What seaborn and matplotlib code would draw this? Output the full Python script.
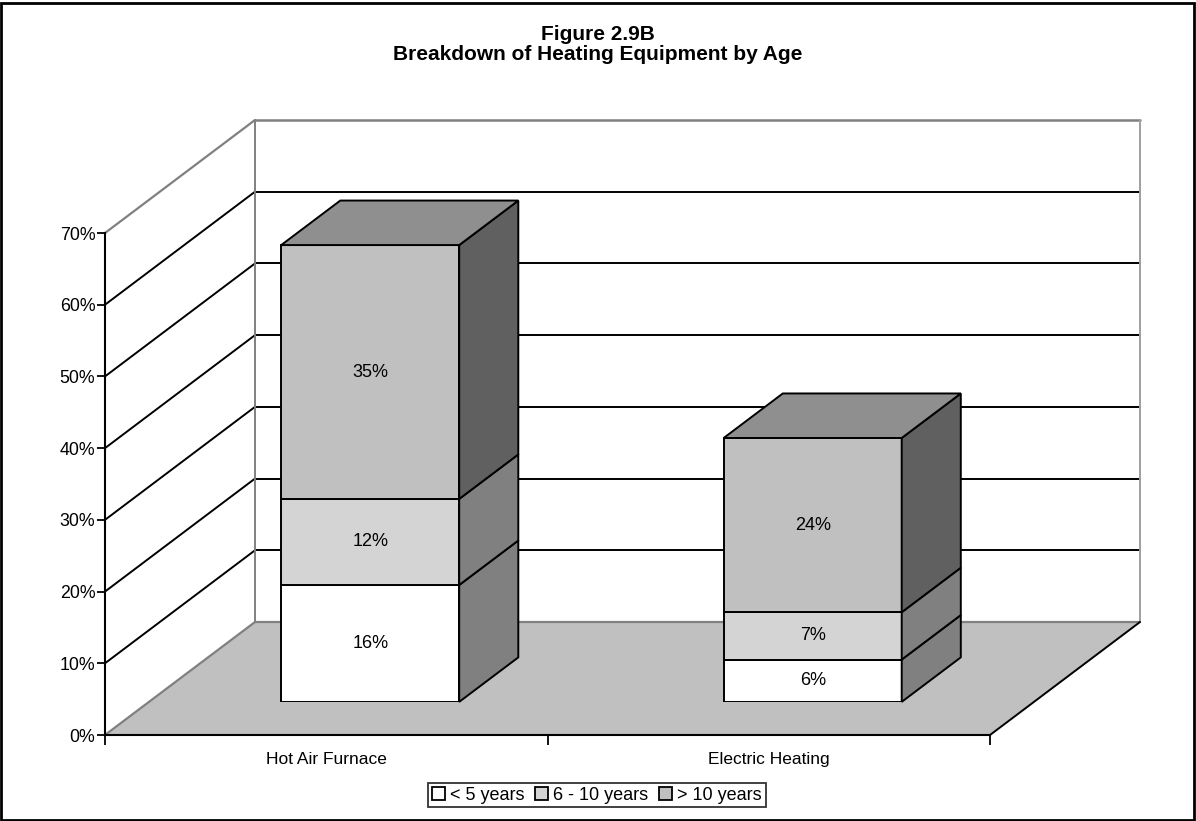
import matplotlib
matplotlib.use("Agg")
import matplotlib.pyplot as plt
from matplotlib.patches import Polygon, Patch, Rectangle
import seaborn as sns

# ---------------- data ----------------
categories = ["Hot Air Furnace", "Electric Heating"]
under_5 = [16.3, 5.9]
six_to_ten = [12.0, 6.6]
over_10 = [35.4, 24.3]
series_names = ["< 5 years", "6 - 10 years", "> 10 years"]
y_ticks = [0, 10, 20, 30, 40, 50, 60, 70]
title_lines = ["Figure 2.9B", "Breakdown of Heating Equipment by Age"]

# ---------------- style ----------------
front_colors = ["#ffffff", "#d4d4d4", "#c0c0c0"]
side_colors = ["#808080", "#808080", "#606060"]
top_color = "#8f8f8f"
floor_color = "#c0c0c0"
wall_edge = "#808080"

sns.set_style("white")
plt.rcParams["font.family"] = ["Liberation Sans", "DejaVu Sans"]
plt.rcParams.update({"text.color": "black", "xtick.color": "black", "ytick.color": "black",
                     "axes.labelcolor": "black", "legend.labelcolor": "black"})

W, H = 1196, 821
fig = plt.figure(figsize=(W / 100, H / 100), dpi=100)

# geometry (pixels)
plot_left, plot_bottom_px, plot_w, plot_top_px = 105, 735, 885, 233
depth_px = (150, 113)           # full depth of the 3-D box
bar_front_frac, bar_back_frac = 0.293, 0.687

def fig_rect(left_px, bottom_px, width_px, top_px):
    return [left_px / W, (H - bottom_px) / H, width_px / W, (bottom_px - top_px) / H]

# front plane axes (ticks, walls, floor)
ax_f = fig.add_axes(fig_rect(plot_left, plot_bottom_px, plot_w, plot_top_px))
ax_f.set_xlim(-0.5, 1.5)
ax_f.set_ylim(0, 70)
ax_f.patch.set_visible(False)
ux = plot_w / 2.0                       # px per category unit
uy = (plot_bottom_px - plot_top_px) / 70.0  # px per percent
DX, DY = depth_px[0] / ux, depth_px[1] / uy

x0, x1 = -0.5, 1.5
# left wall
ax_f.add_patch(Polygon([(x0, 0), (x0, 70), (x0 + DX, 70 + DY), (x0 + DX, DY)],
                       closed=True, facecolor="white", edgecolor="none", clip_on=False, zorder=1))
# back wall
ax_f.add_patch(Polygon([(x0 + DX, DY), (x0 + DX, 70 + DY), (x1 + DX, 70 + DY), (x1 + DX, DY)],
                       closed=True, facecolor="white", edgecolor="none", clip_on=False, zorder=1))
# floor
ax_f.add_patch(Polygon([(x0, 0), (x1, 0), (x1 + DX, DY), (x0 + DX, DY)],
                       closed=True, facecolor=floor_color, edgecolor="none", clip_on=False, zorder=1))
# gridlines
for v in y_ticks[1:-1]:
    ax_f.plot([x0 + DX, x1 + DX], [v + DY, v + DY], color="black", lw=1.4, clip_on=False, zorder=2)
    ax_f.plot([x0, x0 + DX], [v, v + DY], color="black", lw=1.4, clip_on=False, zorder=2)
# wall borders (gray)
ax_f.plot([x0, x0 + DX], [70, 70 + DY], color=wall_edge, lw=1.6, clip_on=False, zorder=2)
ax_f.plot([x0 + DX, x1 + DX], [70 + DY, 70 + DY], color=wall_edge, lw=1.8, clip_on=False, zorder=2)
ax_f.plot([x0 + DX, x0 + DX], [DY, 70 + DY], color=wall_edge, lw=1.4, clip_on=False, zorder=2)
ax_f.plot([x1 + DX, x1 + DX], [DY, 70 + DY], color="#a0a0a0", lw=1.4, clip_on=False, zorder=2)
ax_f.plot([x0, x0 + DX], [0, DY], color=wall_edge, lw=1.6, clip_on=False, zorder=2)
ax_f.plot([x0 + DX, x1 + DX], [DY, DY], color=wall_edge, lw=1.6, clip_on=False, zorder=2)
ax_f.plot([x1, x1 + DX], [0, DY], color="black", lw=1.4, clip_on=False, zorder=2)

for s in ["top", "right"]:
    ax_f.spines[s].set_visible(False)
for s in ["left", "bottom"]:
    ax_f.spines[s].set_color("black")
    ax_f.spines[s].set_linewidth(1.5)
    ax_f.spines[s].set_zorder(3)
ax_f.set_yticks(y_ticks)
ax_f.set_yticklabels([f"{v}%" for v in y_ticks])
ax_f.set_xticks([0, 1])
ax_f.set_xticklabels(categories)
ax_f.set_xticks([-0.5, 0.5, 1.5], minor=True)
ax_f.tick_params(axis="y", which="major", direction="out", length=6, width=1.3,
                 color="black", labelcolor="black", labelsize=12.75, pad=1, left=True)
ax_f.tick_params(axis="x", which="major", length=0, labelsize=12.5, pad=12, bottom=True,
                 labelcolor="black")
ax_f.tick_params(axis="x", which="minor", direction="out", length=7, width=1.3,
                 color="black", bottom=True)

# bar plane axes
bx_px, by_px = depth_px[0] * bar_front_frac, depth_px[1] * bar_front_frac
ax_b = fig.add_axes(fig_rect(plot_left + bx_px, plot_bottom_px - by_px, plot_w,
                             plot_top_px - by_px))
ax_b.patch.set_visible(False)

bar_w = 178 / ux
bdx = depth_px[0] * (bar_back_frac - bar_front_frac) / ux
bdy = depth_px[1] * (bar_back_frac - bar_front_frac) / uy

series = [under_5, six_to_ten, over_10]
bottoms = [0.0] * len(categories)
for k, vals in enumerate(series):
    sns.barplot(x=categories, y=vals, order=categories, bottom=bottoms, color=front_colors[k],
                saturation=1, edgecolor="black", linewidth=1.4, width=bar_w,
                errorbar=None, ax=ax_b, zorder=3)
    for i, v in enumerate(vals):
        b, t = bottoms[i], bottoms[i] + v
        xr = i + bar_w / 2
        ax_b.add_patch(Polygon([(xr, b), (xr + bdx, b + bdy), (xr + bdx, t + bdy), (xr, t)],
                               closed=True, facecolor=side_colors[k], edgecolor="black",
                               linewidth=1.4, clip_on=False, zorder=3))
        ax_b.text(i, b + v / 2, f"{v:.0f}%", ha="center", va="center", fontsize=13,
                  color="black", zorder=5)
    bottoms = [bottoms[i] + vals[i] for i in range(len(vals))]

for i, t in enumerate(bottoms):
    xl, xr = i - bar_w / 2, i + bar_w / 2
    ax_b.add_patch(Polygon([(xl, t), (xr, t), (xr + bdx, t + bdy), (xl + bdx, t + bdy)],
                           closed=True, facecolor=top_color, edgecolor="black",
                           linewidth=1.4, clip_on=False, zorder=3))

ax_b.set_xlim(-0.5, 1.5)
ax_b.set_ylim(0, 70)
ax_b.axis("off")

# title
fig.text(598 / W, 1 - 34 / H, title_lines[0], ha="center", va="center", fontsize=15,
         fontweight="bold", color="black")
fig.text(598 / W, 1 - 55 / H, title_lines[1], ha="center", va="center", fontsize=15,
         fontweight="bold", color="black")

# legend
handles = [Patch(facecolor=c, edgecolor="black", linewidth=1.3) for c in front_colors]
leg = fig.legend(handles, series_names, loc="center", bbox_to_anchor=(597 / W, 1 - 795 / H),
                 ncol=3, frameon=True, fancybox=False, fontsize=13, handlelength=0.7,
                 handleheight=0.7, handletextpad=0.3, columnspacing=0.6, borderpad=0.2,
                 borderaxespad=0, labelcolor="black")
leg.get_frame().set_edgecolor("black")
leg.get_frame().set_linewidth(1.3)

# outer border
fig.add_artist(Rectangle((1 / W, 1 / H), (W - 3) / W, (H - 4) / H, transform=fig.transFigure,
                         fill=False, edgecolor="black", linewidth=2))

fig.savefig("out.png", dpi=100)
